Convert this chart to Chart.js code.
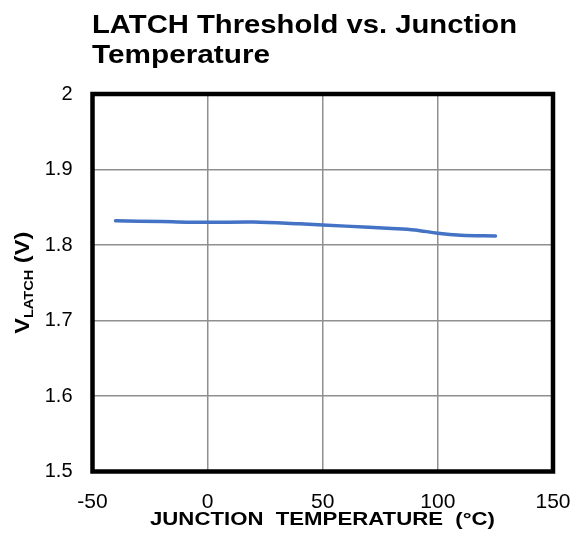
<!DOCTYPE html>
<html>
<head>
<meta charset="utf-8">
<script src="https://cdn.jsdelivr.net/npm/chart.js@4/dist/chart.umd.min.js"></script>
<style>
  html, body { margin: 0; padding: 0; background: #fff; }
  #wrap { width: 576px; height: 539px; }
</style>
</head>
<body>
<div id="wrap"><canvas id="c" width="576" height="539"></canvas></div>
<script>
// data
const junctionTemp = [-40, -20, 0, 20, 40, 60, 80, 90, 100, 110, 125];
const vLatch = [1.832, 1.831, 1.830, 1.8305, 1.828, 1.825, 1.822, 1.820, 1.8155, 1.813, 1.812];

const tempTicks = [-50, 0, 50, 100, 150];
const voltTicks = [1.5, 1.6, 1.7, 1.8, 1.9, 2];

const titleLines = ["LATCH Threshold vs. Junction", "Temperature"];
const xTitle = "JUNCTION  TEMPERATURE  (°C)";

const FONT = "'Liberation Sans', Arial, sans-serif";

// draw text squeezed/stretched horizontally to a given width
function stretchText(ctx, text, x, y, font, width) {
  ctx.save();
  ctx.font = font;
  const w = ctx.measureText(text).width;
  ctx.translate(x, y);
  ctx.scale(width / w, 1);
  ctx.fillText(text, 0, 0);
  ctx.restore();
}

const decor = {
  id: "decor",
  afterDraw(chart) {
    const ctx = chart.ctx;
    const a = chart.chartArea;

    // frame
    ctx.save();
    ctx.strokeStyle = "#000";
    ctx.lineWidth = 4.5;
    ctx.lineJoin = "miter";
    ctx.strokeRect(a.left, a.top, a.right - a.left, a.bottom - a.top);
    ctx.restore();

    ctx.save();
    ctx.fillStyle = "#000";
    ctx.textBaseline = "alphabetic";
    ctx.textAlign = "left";

    // chart title
    stretchText(ctx, titleLines[0], 92, 33, "bold 25px " + FONT, 425);
    stretchText(ctx, titleLines[1], 92, 63, "bold 25px " + FONT, 178);

    // x axis title
    stretchText(ctx, xTitle, 150, 525, "bold 17.5px " + FONT, 345);

    // y axis title with subscript
    ctx.translate(29, (a.top + a.bottom) / 2);
    ctx.rotate(-Math.PI / 2);
    const big = "bold 21px " + FONT;
    const small = "bold 13px " + FONT;
    ctx.font = big;
    const wV = ctx.measureText("V").width;
    const wP = ctx.measureText(" (V)").width;
    ctx.font = small;
    const wS = ctx.measureText("LATCH").width;
    const total = wV + wS + wP;
    ctx.scale(102 / total, 1);
    let x = -total / 2;
    ctx.font = big;
    ctx.fillText("V", x, 0);
    x += wV;
    ctx.font = small;
    ctx.fillText("LATCH", x, 4);
    x += wS;
    ctx.font = big;
    ctx.fillText(" (V)", x, 0);
    ctx.restore();
  }
};

new Chart(document.getElementById("c"), {
  type: "scatter",
  data: {
    datasets: [{
      data: junctionTemp.map((t, i) => ({ x: t, y: vLatch[i] })),
      showLine: true,
      borderColor: "#4472C4",
      backgroundColor: "#4472C4",
      borderWidth: 3.5,
      pointRadius: 0,
      tension: 0.35,
      borderCapStyle: "round"
    }]
  },
  options: {
    responsive: false,
    animation: false,
    devicePixelRatio: 1,
    layout: { padding: { top: 94, right: 23, left: 0, bottom: 0 } },
    plugins: { legend: { display: false }, tooltip: { enabled: false } },
    scales: {
      x: {
        type: "linear",
        min: -50,
        max: 150,
        afterBuildTicks: s => { s.ticks = tempTicks.map(v => ({ value: v })); },
        afterFit: s => { s.height = 67.5; s.paddingRight = 0; s.paddingLeft = 0; },
        grid: { color: "#8f8f8f", lineWidth: 1.5, drawTicks: false },
        border: { display: false },
        ticks: {
          color: "#000",
          padding: 18,
          font: { family: FONT, size: 21 },
          callback: v => String(v)
        }
      },
      y: {
        min: 1.5,
        max: 2,
        afterBuildTicks: s => { s.ticks = voltTicks.map(v => ({ value: v })); },
        afterFit: s => { s.width = 92.5; },
        grid: { color: "#8f8f8f", lineWidth: 1.5, drawTicks: false },
        border: { display: false },
        ticks: {
          color: "#000",
          padding: 20,
          font: { family: FONT, size: 20 },
          callback: v => String(+v.toFixed(1))
        }
      }
    }
  },
  plugins: [decor]
});
</script>
</body>
</html>
